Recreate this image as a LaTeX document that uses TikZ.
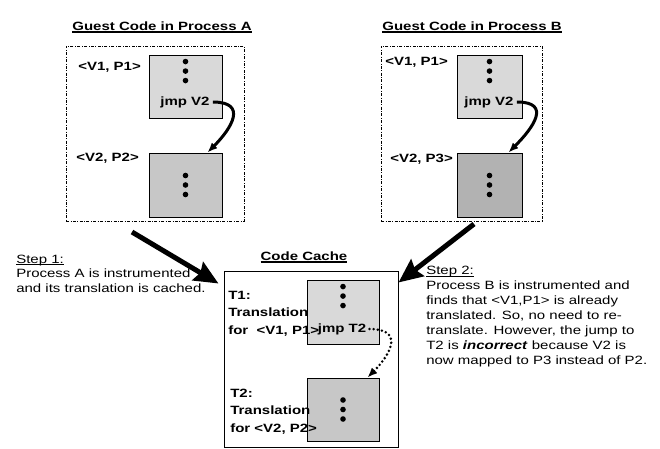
\documentclass[tikz,border=0pt]{standalone}
\usepackage{fontspec}
\setmainfont{Liberation Sans}[FakeStretch=1.25]
\usetikzlibrary{arrows.meta,positioning}

\newcommand{\thickul}[1]{\leavevmode\setbox0=\hbox{#1}\rlap{\rule[-2.3pt]{\wd0}{1.1pt}}\box0}

\definecolor{lightbox}{gray}{0.85}
\definecolor{midbox}{gray}{0.78}
\definecolor{darkbox}{gray}{0.70}

\begin{document}
\begin{tikzpicture}[x=1pt, y=1pt, >={Latex[length=10pt,width=8pt]},
                    semithick]
  \tikzstyle{every node}=[font=\fontsize{12}{14.5}\selectfont]
  \tikzstyle{procbox}=[draw, thin, dash pattern=on 3pt off 1.5pt on 0.8pt off 1.5pt, minimum height=175pt]
  \tikzstyle{cachebox}=[draw, line width=1pt, minimum width=174pt, minimum height=176pt]
  \tikzstyle{codebox}=[draw, line width=0.9pt, minimum height=63pt]
  \tikzstyle{title}=[font=\bfseries\fontsize{12}{14.5}\selectfont]
  \tikzstyle{lbl}=[font=\bfseries\fontsize{12}{17.5}\selectfont, inner sep=0pt]
  \tikzstyle{note}=[align=left, inner sep=0pt, anchor=north west]
  \tikzstyle{jmparrow}=[->, line width=3pt]
  \tikzstyle{dotarrow}=[->, line width=2.8pt, line cap=round, dash pattern=on 0pt off 4.2pt]
  \tikzstyle{bigarrow}=[line width=5pt, -{Stealth[length=24pt,width=21pt,inset=3pt]}]

  \useasboundingbox (0,0) rectangle (660,-448);

	% frames
	\node[procbox, minimum width=178pt]	(procA)	at (155,-133.5)		{};
	\node[procbox, minimum width=161pt]	(procB)	at (461.5,-133.5)	{};
	\node[cachebox]					(cache)	at (311,-359)		{};

	\node[title]	(titleA)	at (162,-27)	{\thickul{Guest Code in Process A}};
	\node[title]	(titleB)	at (472,-27)	{\thickul{Guest Code in Process B}};
	\node[title]	(titleC)	at (304,-257)	{\thickul{Code Cache}};

	% code blocks
	\node[codebox, fill=lightbox, minimum width=73pt]					(a1)	at (185.5,-86.5)	{};
	\node[codebox, fill=midbox, minimum width=73pt, minimum height=64pt]	(a2)	at (185.5,-185)	{};
	\node[codebox, fill=lightbox, minimum width=65pt]					(b1)	at (489.5,-86.5)	{};
	\node[codebox, fill=darkbox, minimum width=65pt, minimum height=64pt]	(b2)	at (489.5,-185)	{};
	\node[codebox, fill=lightbox, minimum width=72pt, minimum height=64pt]	(t1)	at (343,-312)		{};
	\node[codebox, fill=midbox, minimum width=72pt]						(t2)	at (343,-409.5)	{};

	\foreach \b in {a1,b1,t1}
		\foreach \d in {7,16.5,26}
			\fill ([yshift=-\d pt]\b.north) circle (2.8pt);
	\foreach \b in {a2,b2,t2}
		\foreach \d in {-9.5,0,9.5}
			\fill ([yshift=\d pt]\b.center) circle (2.8pt);

	\node[lbl, inner sep=3pt]	(jmpA)	at (185,-102)	{jmp V2};
	\node[lbl, inner sep=3pt]	(jmpB)	at (489,-102)	{jmp V2};
	\node[lbl, inner sep=3pt]	(jmpT)	at (342,-329)	{jmp T2};

	\node[lbl, anchor=west]	(vpA1)	at (78,-67)		{<V1, P1>};
	\node[lbl, anchor=west]	(vpA2)	at (76,-158)	{<V2, P2>};
	\node[lbl, anchor=west]	(vpB1)	at (385,-62)	{<V1, P1>};
	\node[lbl, anchor=west]	(vpB2)	at (390,-159)	{<V2, P3>};

	\node[lbl, note]	(trans1)	at (228,-290.7)	{T1:\\Translation\\for~ <V1, P1>};
	\node[lbl, note]	(trans2)	at (230,-388.7)	{T2:\\Translation\\for <V2, P2>};

	% steps
	\node[note]	(step1)	at (16,-254.5)	{\thickul{Step 1:}\\Process A is instrumented\\and its translation is cached.};
	\node[note, font=\fontsize{12}{15}\selectfont]	(step2)	at (426,-266)
		{\thickul{Step 2:}\\Process B is instrumented and\\finds that <V1,P1> is already\\translated. So, no need to re-\\translate. However, the jump to\\T2 is \textbf{\textit{incorrect}} because V2 is\\now mapped to P3 instead of P2.};

	\path
		(jmpA)	edge [jmparrow, out=0, in=45, looseness=1.75]	([xshift=-15pt]a2.north east)
		(jmpB)	edge [jmparrow, out=0, in=45, looseness=1.75]	([xshift=-14pt]b2.north east)
		(jmpT)	edge [dotarrow, out=0, in=45, looseness=1.8]	([xshift=-12pt]t2.north east);

	\coordinate (fromA) at (132,-232);
	\coordinate (fromB) at (474,-224);
	\path[bigarrow]
		(fromA)	edge	([xshift=-5pt,yshift=-13pt]cache.north west)
		(fromB)	edge	([yshift=-12pt]cache.north east);

\end{tikzpicture}
\end{document}
